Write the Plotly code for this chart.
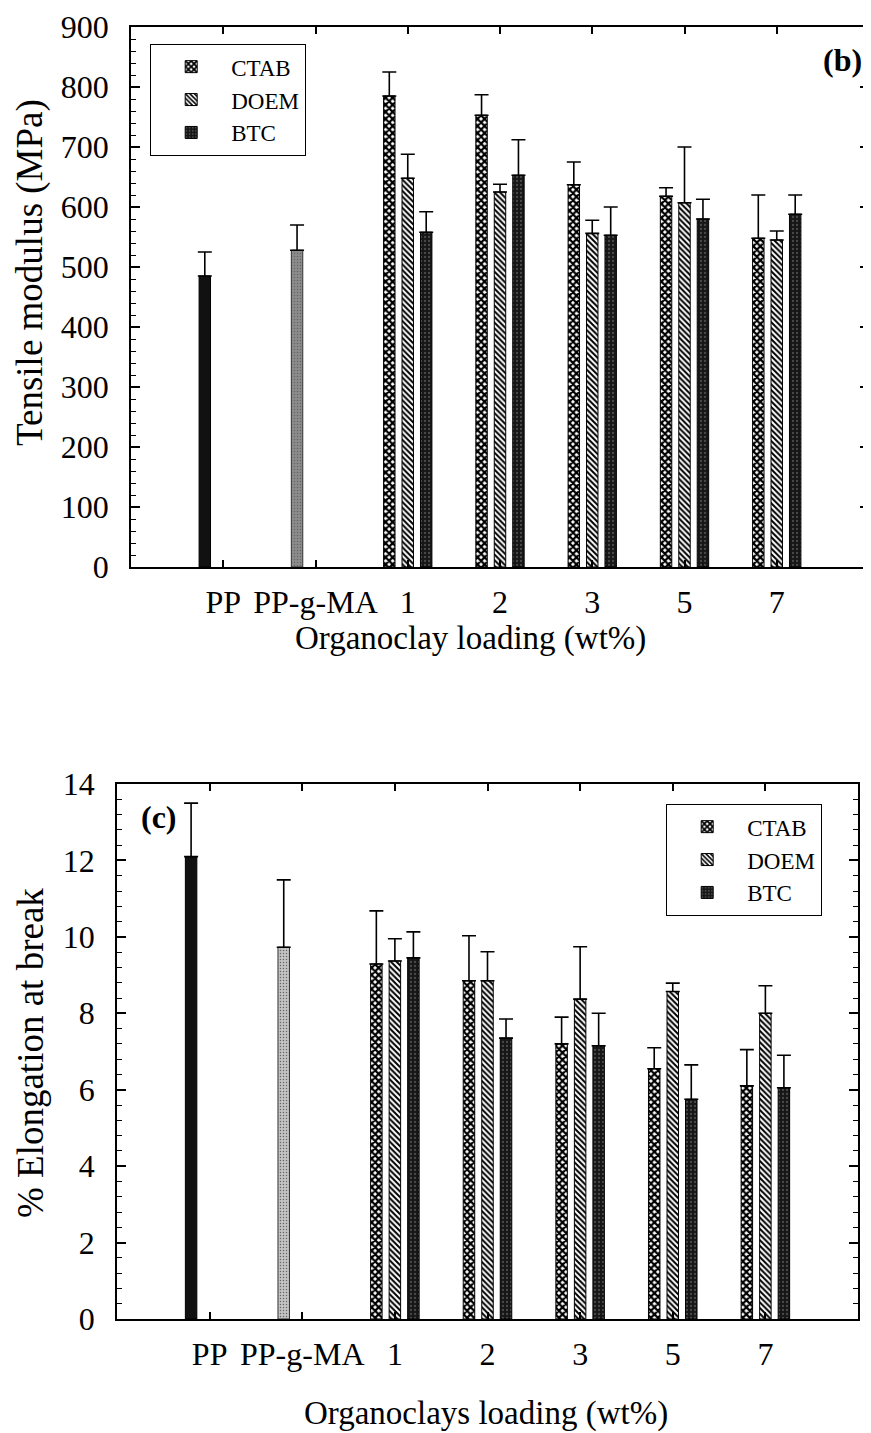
import plotly.graph_objects as go

W, H = 871, 1433
OFF = 8  # page body margin of the HTML page

categories = ["PP", "PP-g-MA", "1", "2", "3", "5", "7"]
loadings = ["1", "2", "3", "5", "7"]
series_names = ["CTAB", "DOEM", "BTC"]

# (b) Tensile modulus (MPa)
pp_mod, pp_mod_err = 485, 40
ppgma_mod, ppgma_mod_err = 528, 42
ctab_mod = [785, 753, 637, 618, 548]
ctab_mod_err = [40, 34, 38, 14, 72]
doem_mod = [648, 625, 556, 607, 545]
doem_mod_err = [40, 13, 22, 93, 15]
btc_mod = [558, 653, 553, 580, 588]
btc_mod_err = [34, 59, 47, 33, 32]

# (c) % Elongation at break
pp_el, pp_el_err = 12.1, 1.4
ppgma_el, ppgma_el_err = 9.73, 1.76
ctab_el = [9.29, 8.85, 7.2, 6.55, 6.1]
ctab_el_err = [1.39, 1.18, 0.7, 0.55, 0.95]
doem_el = [9.37, 8.85, 8.37, 8.57, 8.0]
doem_el_err = [0.58, 0.76, 1.37, 0.22, 0.72]
btc_el = [9.45, 7.35, 7.15, 5.75, 6.05]
btc_el_err = [0.68, 0.5, 0.85, 0.9, 0.85]

FONT = "Liberation Serif"

styles = {
    "CTAB": dict(color="black", line=dict(color="black", width=1),
                 pattern=dict(shape="x", fgcolor="black", bgcolor="white", size=5, solidity=0.7)),
    "DOEM": dict(color="white", line=dict(color="black", width=1),
                 pattern=dict(shape="\\", fgcolor="black", bgcolor="white", size=4, solidity=0.5)),
    "BTC": dict(color="#1c1c1c", line=dict(color="black", width=1),
                pattern=dict(shape=".", fgcolor="#4a4a4a", bgcolor="#161616", size=4, solidity=0.25)),
    "PP": dict(color="#111111", line=dict(color="black", width=1)),
}


def err(vals):
    return dict(type="data", symmetric=False, array=list(vals), arrayminus=[0] * len(vals),
                color="black", thickness=1.6, width=7)


fig = go.Figure()


def add_panel(xa, ya, leg, pp, pp_e, pg, pg_e, cvals, cerr, dvals, derr, bvals, berr, pg_color):
    fig.add_trace(go.Bar(x=["PP"], y=[pp], error_y=err([pp_e]), marker=styles["PP"],
                         offsetgroup="a", showlegend=False, xaxis=xa, yaxis=ya, name="PP"))
    fig.add_trace(go.Bar(x=["PP-g-MA"], y=[pg], error_y=err([pg_e]),
                         marker=dict(color=pg_color, line=dict(color="#333", width=1),
                                     pattern=dict(shape=".", fgcolor="#666", bgcolor=pg_color,
                                                  size=3, solidity=0.2)),
                         offsetgroup="a", showlegend=False, xaxis=xa, yaxis=ya, name="PP-g-MA"))
    for nm, v, e, og in [("CTAB", cvals, cerr, "a"), ("DOEM", dvals, derr, "b"), ("BTC", bvals, berr, "c")]:
        fig.add_trace(go.Bar(x=loadings, y=v, error_y=err(e), marker=styles[nm], name=nm,
                             offsetgroup=og, xaxis=xa, yaxis=ya, legend=leg))


add_panel("x", "y", "legend", pp_mod, pp_mod_err, ppgma_mod, ppgma_mod_err,
          ctab_mod, ctab_mod_err, doem_mod, doem_mod_err, btc_mod, btc_mod_err, "#8c8c8c")
add_panel("x2", "y2", "legend2", pp_el, pp_el_err, ppgma_el, ppgma_el_err,
          ctab_el, ctab_el_err, doem_el, doem_el_err, btc_el, btc_el_err, "#c4c4c4")

FW, FH = W - OFF, H - OFF


def px_x(v):
    return (v - OFF) / FW


def px_y(v):
    return 1 - (v - OFF) / FH


common_x = dict(type="category", categoryorder="array", categoryarray=categories, range=[-1, 7],
                showline=True, linecolor="black", linewidth=1.5, mirror="ticks", ticks="inside",
                ticklen=7, tickwidth=1.5, tickcolor="black", showgrid=False, zeroline=False,
                automargin=False,
                tickfont=dict(family=FONT, size=32, color="black"), ticklabelstandoff=6)
common_y = dict(showline=True, linecolor="black", linewidth=1.5, mirror="ticks", ticks="inside",
                ticklen=9, tickwidth=1.5, tickcolor="black", showgrid=False, zeroline=False,
                automargin=False,
                tickfont=dict(family=FONT, size=32, color="black"), ticklabelstandoff=14)

legend_common = dict(font=dict(family=FONT, size=23, color="black"), bordercolor="black",
                     borderwidth=1.2, bgcolor="white", xanchor="left", yanchor="top",
                     tracegroupgap=0, itemwidth=70)

fig.update_layout(
    template="none",
    width=FW, height=FH, margin=dict(l=0, r=0, t=0, b=0, autoexpand=False),
    paper_bgcolor="white", plot_bgcolor="white",
    barmode="group", bargap=0.4, bargroupgap=0.38,
    font=dict(family=FONT, color="black"),
    xaxis=dict(domain=[px_x(131), px_x(869)], anchor="y", **common_x),
    yaxis=dict(domain=[px_y(567), px_y(27)], anchor="x", range=[0, 900], dtick=100,
               minor=dict(dtick=20, ticklen=5, ticks="inside", tickcolor="black", tickwidth=1.2),
               **common_y),
    xaxis2=dict(domain=[px_x(117), px_x(858)], anchor="y2", **common_x),
    yaxis2=dict(domain=[px_y(1319), px_y(784)], anchor="x2", range=[0, 14], dtick=2,
                minor=dict(dtick=0.4, ticklen=5, ticks="inside", tickcolor="black", tickwidth=1.2),
                **common_y),
    legend=dict(x=px_x(150), y=px_y(44), **legend_common),
    legend2=dict(x=px_x(666), y=px_y(804), **legend_common),
    showlegend=True,
)

annots = [
    dict(text="<b>(b)</b>", x=px_x(864), y=px_y(60), xanchor="right", yanchor="middle", size=32),
    dict(text="<b>(c)</b>", x=px_x(139), y=px_y(817), xanchor="left", yanchor="middle", size=32),
    dict(text="Organoclay loading (wt%)", x=px_x(470), y=px_y(638), xanchor="center", yanchor="middle", size=33),
    dict(text="Organoclays loading (wt%)", x=px_x(486), y=px_y(1413), xanchor="center", yanchor="middle", size=33),
    dict(text="Tensile modulus (MPa)", x=px_x(30), y=px_y(273), xanchor="center", yanchor="middle", size=37, textangle=-90),
    dict(text="% Elongation at break", x=px_x(30), y=px_y(1053), xanchor="center", yanchor="middle", size=37, textangle=-90),
]
for a in annots:
    size = a.pop("size")
    fig.add_annotation(xref="paper", yref="paper", showarrow=False,
                       font=dict(family=FONT, size=size, color="black"), **a)

fig.write_html("out.html")
